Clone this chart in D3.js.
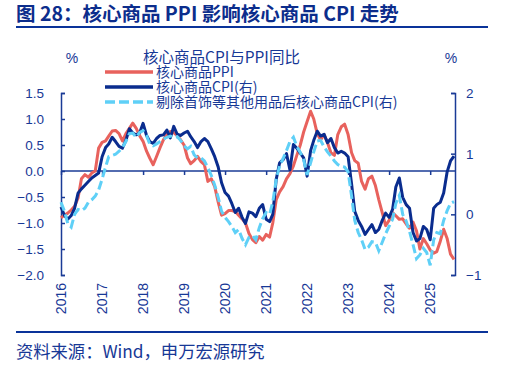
<!DOCTYPE html>
<html><head><meta charset="utf-8">
<script src="https://cdn.jsdelivr.net/npm/d3@7/dist/d3.min.js"></script>
<style>
html,body{margin:0;padding:0;background:#fff;}
svg{display:block;}
</style></head>
<body>
<script>
// ---- data ----
const startMonth = "2016-01";
const yearLabels = ["2016","2017","2018","2019","2020","2021","2022","2023","2024","2025"];
const leftTicks = [1.5,1.0,0.5,0.0,-0.5,-1.0,-1.5,-2.0];
const rightTicks = [2,1,0,-1];
const seriesNames = ["核心商品PPI","核心商品CPI(右)","剔除首饰等其他用品后核心商品CPI(右)"];
const ppi = [-0.90,-0.85,-0.81,-0.75,-0.68,-0.52,-0.15,-0.07,-0.12,-0.04,0.00,0.44,
0.55,0.58,0.67,0.77,0.78,0.72,0.58,0.72,0.82,0.92,0.82,0.68,
0.57,0.38,0.25,0.12,0.28,0.45,0.60,0.70,0.76,0.74,0.68,0.60,
0.50,0.25,0.14,0.20,0.28,0.18,0.12,-0.20,-0.15,-0.30,-0.60,-0.85,
-0.82,-0.76,-0.76,-0.78,-0.85,-0.92,-1.00,-1.20,-1.32,-1.38,-1.26,-1.33,
-1.22,-1.27,-1.00,-0.55,-0.40,-0.30,-0.15,-0.05,0.10,0.30,0.50,0.75,
0.95,1.15,1.00,0.72,0.60,0.70,0.55,0.35,0.30,0.70,0.85,0.90,
0.70,0.35,0.20,0.15,-0.20,-0.35,-0.15,-0.10,-0.28,-0.55,-0.80,-1.05,
-0.95,-0.80,-0.86,-0.93,-0.92,-1.02,-1.10,-0.98,-1.15,-1.50,-1.30,-1.40,
-1.52,-1.58,-1.55,-1.35,-1.12,-1.30,-1.60,-1.70];
const cpi = [0.12,-0.02,-0.08,-0.02,0.10,0.35,0.42,0.48,0.54,0.60,0.64,0.68,
0.95,1.10,1.16,1.27,1.20,1.12,1.09,1.22,1.41,1.34,1.31,1.34,
1.50,1.30,1.20,1.17,1.25,1.30,1.31,1.39,1.26,1.45,1.32,1.30,
1.34,1.37,1.28,1.20,1.10,1.20,1.25,1.20,1.08,0.95,0.78,0.52,
0.36,0.30,0.18,0.03,0.10,-0.05,-0.15,0.04,0.02,-0.04,0.10,0.16,
-0.08,-0.12,0.00,0.58,0.85,0.90,1.00,0.73,1.15,1.09,1.01,0.93,
0.63,1.05,1.22,1.37,1.29,1.32,1.18,1.25,1.10,1.01,1.04,1.01,
0.95,0.50,0.05,-0.10,-0.20,-0.33,-0.25,-0.17,-0.30,-0.25,-0.10,0.02,
-0.05,0.08,0.45,0.60,0.28,0.16,0.10,-0.30,-0.44,-0.40,-0.20,-0.25,
-0.42,0.10,0.16,0.20,0.35,0.70,0.88,0.96];
const cpiEx = [0.20,0.05,-0.15,-0.21,0.00,0.08,0.06,0.10,0.20,0.24,0.30,0.40,
0.58,0.78,0.95,0.97,0.99,1.04,1.10,1.20,1.33,1.34,1.27,1.35,
1.38,1.30,1.16,1.13,1.16,1.20,1.24,1.27,1.29,1.27,1.28,1.22,
1.13,1.08,1.12,0.98,0.93,0.93,0.88,0.77,0.64,0.48,0.28,0.05,
-0.05,-0.12,-0.20,-0.30,-0.25,-0.40,-0.50,-0.38,-0.35,-0.42,-0.22,-0.07,
0.03,0.00,0.20,0.58,0.80,0.92,1.05,1.20,1.27,1.12,1.02,0.90,
0.65,0.85,1.03,1.21,1.22,1.11,1.03,0.96,0.88,0.82,0.79,0.78,
0.70,0.30,-0.10,-0.30,-0.42,-0.58,-0.54,-0.45,-0.46,-0.60,-0.46,-0.32,
-0.20,-0.08,0.18,0.31,0.00,-0.11,-0.28,-0.50,-0.73,-0.67,-0.56,-0.63,
-0.84,-0.42,-0.30,-0.32,-0.10,0.06,0.18,0.21];

// ---- layout ----
const W = 513, H = 382;
const navy = "#0c2d8c", axisC = "#1a3b96", textC = "#173896";
const colors = ["#e8625d", "#0a2c8e", "#5fd0f7"];
const pl = 61, pr = 455, pt = 93, pb = 275;

const parse = d3.timeParse("%Y-%m");
const t0 = parse(startMonth);
const dates = ppi.map((_, i) => d3.timeMonth.offset(t0, i));

const x = d3.scaleTime().domain([t0, dates[dates.length - 1]]).range([pl, 454]);
const yL = d3.scaleLinear().domain([-2, 1.5]).range([pb, pt]);
const yR = d3.scaleLinear().domain([-1, 2]).range([pb, pt]);

const svg = d3.select("body").append("svg").attr("width", W).attr("height", H);
svg.append("rect").attr("width", W).attr("height", H).attr("fill", "#fff");

const cjk = "'Noto Sans CJK SC', sans-serif";
const num = "'Liberation Sans', Arial, sans-serif";

// title
svg.append("text").attr("x", 16).attr("y", 21)
  .attr("font-family", cjk).attr("font-weight", "bold")
  .attr("font-size", 19.5).attr("fill", navy)
  .text("图 28：核心商品 PPI 影响核心商品 CPI 走势");
svg.append("line").attr("x1", 16).attr("x2", 488).attr("y1", 27).attr("y2", 27)
  .attr("stroke", "#0a3399").attr("stroke-width", 2);

// footer
svg.append("line").attr("x1", 16).attr("x2", 488).attr("y1", 332).attr("y2", 332)
  .attr("stroke", "#0a3399").attr("stroke-width", 2);
svg.append("text").attr("x", 16).attr("y", 358)
  .attr("font-family", cjk)
  .attr("font-size", 17.3).attr("fill", textC)
  .text("资料来源：Wind，申万宏源研究");

// chart title and units
svg.append("text").attr("x", 143).attr("y", 63).attr("font-family", cjk)
  .attr("font-size", 15.5).attr("fill", textC).text("核心商品CPI与PPI同比");
svg.append("text").attr("x", 72).attr("y", 63).attr("text-anchor", "middle")
  .attr("font-family", num).attr("font-size", 14).attr("fill", textC).text("%");
svg.append("text").attr("x", 451).attr("y", 63).attr("text-anchor", "middle")
  .attr("font-family", num).attr("font-size", 14).attr("fill", textC).text("%");

// axes
const gL = svg.append("g").attr("transform", `translate(${pl},0)`)
  .call(d3.axisRight(yL).tickValues(leftTicks).tickSize(4).tickFormat(""));
const gR = svg.append("g").attr("transform", `translate(${pr},0)`)
  .call(d3.axisLeft(yR).tickValues(rightTicks).tickSize(4).tickFormat(""));
[gL, gR].forEach(g => {
  g.select(".domain").attr("stroke", axisC).attr("stroke-width", 1.5);
  g.selectAll(".tick line").attr("stroke", axisC).attr("stroke-width", 1.5);
});
// tick labels
svg.append("g").selectAll("text").data(leftTicks).join("text")
  .attr("x", 44).attr("y", d => yL(d)).attr("dy", "0.36em").attr("text-anchor", "end")
  .attr("font-family", num).attr("font-size", 13.5).attr("fill", textC)
  .text(d => d3.format(".1f")(d));
svg.append("g").selectAll("text").data(rightTicks).join("text")
  .attr("x", 466).attr("y", d => yR(d)).attr("dy", "0.36em").attr("text-anchor", "start")
  .attr("font-family", num).attr("font-size", 13.5).attr("fill", textC)
  .text(d => d3.format("d")(d));

// zero line with year ticks
const yearDates = yearLabels.map(y => d3.timeParse("%Y")(y));
const gX = svg.append("g").attr("transform", `translate(0,${yL(0)})`)
  .call(d3.axisBottom(x).tickValues(yearDates).tickSize(4).tickFormat(""));
gX.select(".domain").attr("stroke", axisC).attr("stroke-width", 1.5)
  .attr("d", `M${pl},0H${pr}`);
gX.selectAll(".tick line").attr("stroke", axisC).attr("stroke-width", 1.5);
svg.append("g").selectAll("text").data(yearLabels).join("text")
  .attr("transform", (d, i) => `translate(${x(yearDates[i])},283) rotate(-90)`)
  .attr("text-anchor", "end").attr("dy", "0.36em")
  .attr("font-family", num).attr("font-size", 14).attr("fill", textC)
  .text(d => d);

// lines
const lineL = d3.line().x((d, i) => x(dates[i])).y(d => yL(d));
const lineR = d3.line().x((d, i) => x(dates[i])).y(d => yR(d));
svg.append("path").datum(ppi).attr("d", lineL).attr("fill", "none")
  .attr("stroke", colors[0]).attr("stroke-width", 3).attr("stroke-linejoin", "round");
svg.append("path").datum(cpi).attr("d", lineR).attr("fill", "none")
  .attr("stroke", colors[1]).attr("stroke-width", 3).attr("stroke-linejoin", "round");
svg.append("path").datum(cpiEx).attr("d", lineR).attr("fill", "none")
  .attr("stroke", colors[2]).attr("stroke-width", 3).attr("stroke-dasharray", "9,4");

// legend
const lg = svg.append("g");
seriesNames.forEach((name, i) => {
  const yy = 72 + i * 15;
  lg.append("line").attr("x1", 105).attr("x2", 153).attr("y1", yy).attr("y2", yy)
    .attr("stroke", colors[i]).attr("stroke-width", 3.5)
    .attr("stroke-dasharray", i === 2 ? "10,4" : null);
  lg.append("text").attr("x", 156).attr("y", yy).attr("dy", "0.36em")
    .attr("font-family", cjk).attr("font-size", 14).attr("fill", textC).text(name);
});
</script>
</body></html>
